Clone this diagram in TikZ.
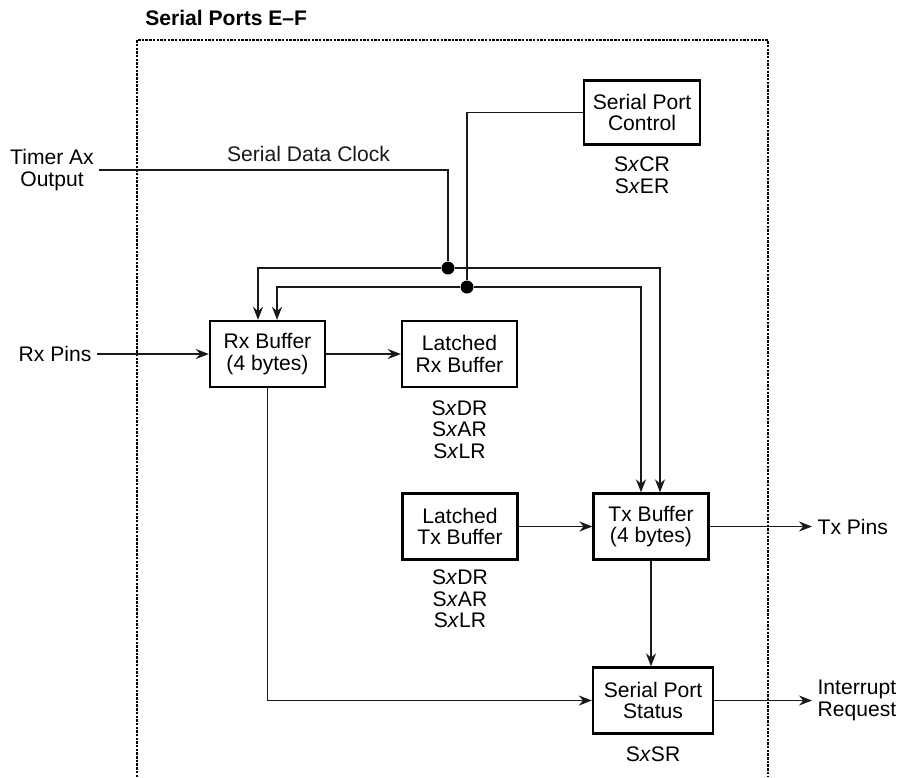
\documentclass[tikz,border=0pt]{standalone}
\usepackage{fontspec}
\setmainfont{Liberation Sans}
\usepackage{tikz}
\usetikzlibrary{arrows.meta,positioning}
\newcommand{\diagfont}{\fontsize{12}{12.2}\selectfont}
\tikzset{
  basebox/.style={rectangle,draw=black,line width=1.3pt,align=center,font=\diagfont,inner sep=2pt},
  blocknode/.style={basebox,minimum width=23mm,minimum height=13.2mm},
  regnode/.style={align=center,font=\diagfont,inner sep=0pt},
  pinnode/.style={align=center,font=\diagfont,inner sep=3pt},
  wire/.style={line width=0.9pt,color=black!90},
  arr/.style={wire,-{Stealth[length=2.6mm,width=2mm]}},
  junction/.style={circle,fill=black,inner sep=0pt,minimum size=2.6mm},
  framebox/.style={line width=1.2pt,dash pattern=on 1.4pt off 0.7pt}
}

\begin{document}
\begin{tikzpicture}[x=0.2mm,y=-0.2mm]
  \useasboundingbox (0,0) rectangle (902,777);

  %% FRAME
  \draw[framebox] (137,777) -- (137,40) -- (768,40) -- (768,777);
  \node[font=\diagfont\bfseries,anchor=west,inner sep=0pt] (title) at (145,18) {Serial Ports E--F};

  %% BLOCKS
  \node[blocknode,minimum width=23.2mm,minimum height=12.8mm]
    (ctrl) at (642,112.5) {Serial Port\\Control};
  \node[regnode,below=2.2mm of ctrl] (ctrlreg) {S\textit{x}CR\\S\textit{x}ER};

  \node[blocknode] (rxbuf) at (267.5,354) {Rx Buffer\\(4 bytes)};
  \node[blocknode] (lrx) at (459.5,354) {Latched\\Rx Buffer};
  \node[regnode,below=2.4mm of lrx] (lrxreg) {S\textit{x}DR\\S\textit{x}AR\\S\textit{x}LR};

  \node[blocknode] (ltx) at (460,526.5) {Latched\\Tx Buffer};
  \node[regnode,below=1.8mm of ltx] (ltxreg) {S\textit{x}DR\\S\textit{x}AR\\S\textit{x}LR};
  \node[blocknode] (txbuf) at (651,526.5) {Tx Buffer\\(4 bytes)};

  \node[blocknode,minimum width=24mm] (stat) at (653,700.5) {Serial Port\\Status};
  \node[regnode,below=2.4mm of stat] (statreg) {S\textit{x}SR};

  %% OUTSIDE SIGNALS
  \node[pinnode] (tmr) at (52,170) {Timer Ax\\Output};
  \node[pinnode] (rxpin) at (55,354) {Rx Pins};
  \node[pinnode,anchor=west] (txpin) at (812,526.5) {Tx Pins};
  \node[pinnode,anchor=west,align=left] (irq) at (812,700.5) {Interrupt\\Request};

  %% JUNCTIONS
  \node[junction] (jclk) at (448,268) {};
  \node[junction] (jctl) at (467,287) {};

  %% CONNECTIONS
  \draw[wire] (tmr.east) -| (jclk)
    node[pos=0.3,above=4pt,font=\diagfont,inner sep=0pt]{Serial Data Clock};
  \draw[wire] (ctrl.west) -| (jctl);
  \draw[arr] (jclk) -| ([xshift=-1.9mm]rxbuf.north);
  \draw[arr] (jclk) -| ([xshift=1.8mm]txbuf.north);
  \draw[arr] (jctl) -| ([xshift=1.9mm]rxbuf.north);
  \draw[arr] (jctl) -| ([xshift=-2mm]txbuf.north);
  \draw[arr] (rxpin) -- (rxbuf);
  \draw[arr] (rxbuf) -- (lrx);
  \draw[arr] (ltx) -- (txbuf);
  \draw[arr] (txbuf) -- (txpin);
  \draw[arr] (txbuf.south) -- (txbuf.south |- stat.north);
  \draw[arr] (rxbuf.south) |- (stat.west);
  \draw[arr] (stat) -- (irq);
\end{tikzpicture}
\end{document}
